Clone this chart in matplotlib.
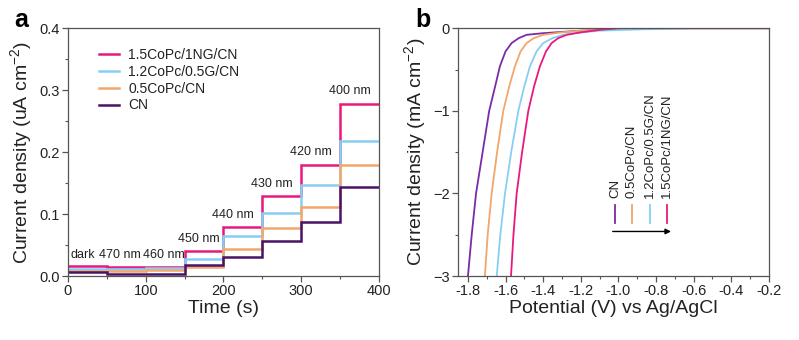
import numpy as np
import matplotlib
matplotlib.use("Agg")
from matplotlib import pyplot as plt
from matplotlib.ticker import MultipleLocator, FormatStrFormatter

plt.rcParams['font.family'] = ['Liberation Sans', 'DejaVu Sans']
plt.rcParams['mathtext.fontset'] = 'custom'
plt.rcParams['mathtext.rm'] = 'Liberation Sans'

SAMPLES = ["1.5CoPc/1NG/CN", "1.2CoPc/0.5G/CN", "0.5CoPc/CN", "CN"]
COLORS_A = ["#E8197D", "#86CEF4", "#F2A66A", "#4A1266"]
COLORS_B = ["#E8197D", "#86CEF4", "#F2A66A", "#7B2BA8"]

# Chopped-light photocurrent: one level per 50 s window
time_edges = [0, 50, 100, 150, 200, 250, 300, 350, 400]
window_labels = ["dark", "470 nm", "460 nm", "450 nm", "440 nm", "430 nm", "420 nm", "400 nm"]
label_pos_t = [19, 67, 124, 168, 212, 262, 313, 363]
label_pos_j = [0.034, 0.034, 0.034, 0.060, 0.098, 0.148, 0.200, 0.298]
photo_levels = {
    "1.5CoPc/1NG/CN":  [0.016, 0.015, 0.015, 0.040, 0.080, 0.130, 0.180, 0.278],
    "1.2CoPc/0.5G/CN": [0.012, 0.012, 0.013, 0.028, 0.065, 0.101, 0.147, 0.218],
    "0.5CoPc/CN":      [0.009, 0.008, 0.010, 0.015, 0.043, 0.077, 0.111, 0.180],
    "CN":              [0.006, 0.004, 0.004, 0.018, 0.030, 0.057, 0.087, 0.143],
}

# LSV curves (potential in V vs Ag/AgCl, current density in mA cm-2)
lsv_v = {
    "CN": [-1.81, -1.80, -1.78, -1.757, -1.722, -1.687, -1.655, -1.63, -1.60, -1.568,
           -1.53, -1.488, -1.40, -1.30, -1.20, -1.00, -0.90, -0.20],
    "0.5CoPc/CN": [-1.72, -1.71, -1.695, -1.674, -1.645, -1.612, -1.58, -1.55, -1.52,
                   -1.488, -1.45, -1.40, -1.30, -1.20, -1.00, -0.80, -0.20],
    "1.2CoPc/0.5G/CN": [-1.655, -1.647, -1.628, -1.603, -1.57, -1.532, -1.50, -1.47,
                        -1.435, -1.40, -1.35, -1.295, -1.20, -1.10, -0.90, -0.60, -0.20],
    "1.5CoPc/1NG/CN": [-1.578, -1.571, -1.558, -1.541, -1.512, -1.479, -1.448, -1.417,
                       -1.385, -1.355, -1.32, -1.275, -1.20, -1.10, -1.00, -0.20],
}
lsv_j = {
    "CN": [-3.2, -3.0, -2.5, -2.0, -1.5, -1.0, -0.70, -0.46, -0.28, -0.18,
           -0.12, -0.08, -0.06, -0.045, -0.03, -0.01, 0.0, 0.0],
    "0.5CoPc/CN": [-3.2, -3.0, -2.5, -2.0, -1.5, -1.0, -0.70, -0.46, -0.28,
                   -0.18, -0.12, -0.08, -0.05, -0.03, -0.01, 0.0, 0.0],
    "1.2CoPc/0.5G/CN": [-3.2, -3.0, -2.5, -2.0, -1.5, -1.0, -0.70, -0.46,
                        -0.28, -0.18, -0.12, -0.08, -0.05, -0.03, -0.015, 0.0, 0.0],
    "1.5CoPc/1NG/CN": [-3.2, -3.0, -2.5, -2.0, -1.5, -1.0, -0.70, -0.46,
                       -0.28, -0.18, -0.12, -0.08, -0.05, -0.02, 0.0, 0.0],
}
lsv_order = ["CN", "0.5CoPc/CN", "1.2CoPc/0.5G/CN", "1.5CoPc/1NG/CN"]
key_x = [-1.018, -0.929, -0.832, -0.743]

SPINE = "#555555"
TEXT = "#222222"


def style_axes(ax):
    for s in ax.spines.values():
        s.set_color(SPINE)
        s.set_linewidth(0.9)
    ax.tick_params(which='both', direction='out', color=SPINE, labelcolor=TEXT,
                   labelsize=10.5, top=False, right=False, pad=2)
    ax.tick_params(which='major', length=4, width=0.9)
    ax.tick_params(which='minor', length=2.5, width=0.8)


fig = plt.figure(figsize=(7.99, 3.40), dpi=100)
ax_a = fig.add_axes([0.0851, 0.188, 0.389, 0.729])
ax_b = fig.add_axes([0.5732, 0.188, 0.389, 0.729])

# panel a
for name, color in zip(SAMPLES, COLORS_A):
    ax_a.stairs(photo_levels[name], time_edges, color=color, lw=1.8,
                baseline=None, label=name)
for lab, t, j in zip(window_labels, label_pos_t, label_pos_j):
    ax_a.text(t, j, lab, ha='center', va='center', fontsize=9, color=TEXT)
ax_a.set_xlim(0, 400)
ax_a.set_ylim(0, 0.4)
ax_a.xaxis.set_major_locator(MultipleLocator(100))
ax_a.xaxis.set_minor_locator(MultipleLocator(50))
ax_a.yaxis.set_major_locator(MultipleLocator(0.1))
ax_a.yaxis.set_minor_locator(MultipleLocator(0.05))
ax_a.yaxis.set_major_formatter(FormatStrFormatter('%.1f'))
ax_a.set_xlabel("Time (s)", fontsize=14, color=TEXT, labelpad=1)
ax_a.set_ylabel("Current density (uA cm$^{-2}$)", fontsize=14, color=TEXT, labelpad=3)
ax_a.legend(loc='upper left', bbox_to_anchor=(0.10, 0.92), frameon=False,
            fontsize=10, handlelength=1.4, handletextpad=0.7, labelspacing=0.2,
            borderpad=0, borderaxespad=0, labelcolor=TEXT)
style_axes(ax_a)
fig.text(0.026, 0.94, "a", fontsize=18, fontweight='bold', ha='center', va='center')

# panel b
for name in lsv_order:
    color = COLORS_B[SAMPLES.index(name)]
    ax_b.plot(lsv_v[name], lsv_j[name], color=color, lw=1.3)
for name, x in zip(lsv_order, key_x):
    color = COLORS_B[SAMPLES.index(name)]
    ax_b.plot([x, x], [-2.14, -2.36], color=color, lw=1.3)
    ax_b.text(x, -2.06, name, rotation=90, ha='center', va='bottom',
              fontsize=9.5, color=TEXT)
ax_b.annotate("", xy=(-0.72, -2.46), xytext=(-1.03, -2.46),
              arrowprops=dict(arrowstyle='-|>', color='black', lw=1.0,
                              mutation_scale=8, shrinkA=0, shrinkB=0))
ax_b.set_xlim(-1.853, -0.2)
ax_b.set_ylim(-3, 0)
ax_b.xaxis.set_major_locator(MultipleLocator(0.2))
ax_b.xaxis.set_minor_locator(MultipleLocator(0.1))
ax_b.yaxis.set_major_locator(MultipleLocator(1))
ax_b.yaxis.set_minor_locator(MultipleLocator(0.5))
ax_b.xaxis.set_major_formatter(FormatStrFormatter('%.1f'))
ax_b.set_xlabel("Potential (V) vs Ag/AgCl", fontsize=14, color=TEXT, labelpad=1)
ax_b.set_ylabel("Current density (mA cm$^{-2}$)", fontsize=14, color=TEXT, labelpad=3)
style_axes(ax_b)
fig.text(0.529, 0.94, "b", fontsize=18, fontweight='bold', ha='center', va='center')

fig.savefig("out.png", dpi=100)
